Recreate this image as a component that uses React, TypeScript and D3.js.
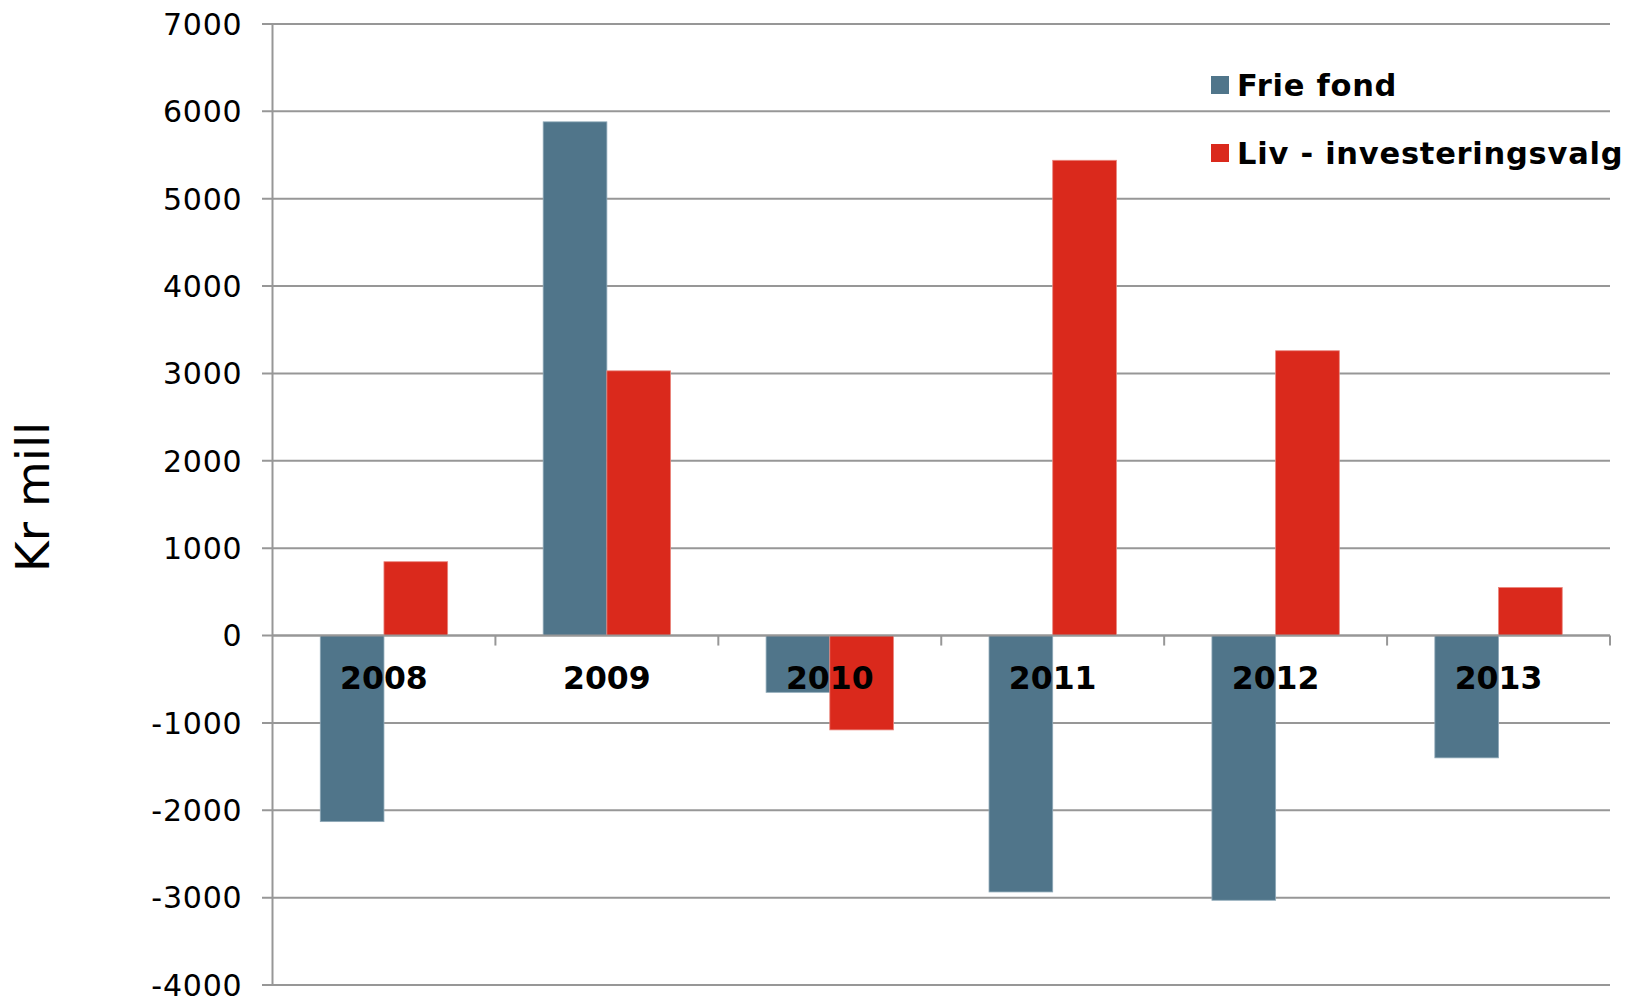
import React from "react";
import * as d3 from "d3";

const categories = ["2008", "2009", "2010", "2011", "2012", "2013"];
const frieFond = [-2130, 5880, -650, -2935, -3030, -1400];
const livInvesteringsvalg = [845, 3030, -1080, 5440, 3260, 550];
const seriesNames = ["Frie fond", "Liv - investeringsvalg"];
const seriesColors = ["#50758A", "#DA291C"];
const yTicks = [7000, 6000, 5000, 4000, 3000, 2000, 1000, 0, -1000, -2000, -3000, -4000];
const yTitle = "Kr mill";

const W = 1627;
const H = 997;
const left = 272.5;
const right = 1610;
const top = 24;
const bottom = 985;

export default function App() {
  const y = d3.scaleLinear().domain([-4000, 7000]).range([bottom, top]);
  const x0 = d3.scaleBand<string>().domain(categories).range([left, right]).padding(0);
  const x1 = d3
    .scaleBand<string>()
    .domain(seriesNames)
    .range([0, x0.bandwidth()])
    .paddingInner(0)
    .paddingOuter(0.75);
  const series = [frieFond, livInvesteringsvalg];
  const y0 = y(0);
  const grid = "#979797";
  const boundaries = categories.map((c) => (x0(c) as number) + x0.bandwidth());

  return (
    <svg
      width={W}
      height={H}
      style={{ position: "absolute", left: 0, top: 0, background: "#fff" }}
      fontFamily="'DejaVu Sans', Verdana, sans-serif"
    >
      {/* gridlines */}
      {yTicks.map((t) => (
        <line key={"g" + t} x1={262} x2={right} y1={y(t)} y2={y(t)} stroke={grid} strokeWidth={2} />
      ))}
      {/* y axis line */}
      <line x1={left} x2={left} y1={top} y2={bottom} stroke={grid} strokeWidth={2} />
      {/* y tick labels */}
      {yTicks.map((t) => (
        <text key={"l" + t} x={242.5} y={y(t)} dy="0.36em" textAnchor="end" fontSize={30} letterSpacing={0.8} fill="#000">
          {t}
        </text>
      ))}
      {/* bars */}
      {categories.map((c, i) =>
        series.map((s, j) => {
          const v = s[i];
          const bx = (x0(c) as number) + (x1(seriesNames[j]) as number);
          const yy = Math.min(y(v), y0);
          const h = Math.abs(y(v) - y0);
          return (
            <rect
              key={c + j}
              x={bx}
              y={yy}
              width={x1.bandwidth()}
              height={h}
              fill={seriesColors[j]}
              stroke={j === 0 ? "#8fa9b8" : "#e9857d"}
              strokeWidth={0.8}
            />
          );
        })
      )}
      {/* zero axis */}
      <line x1={left} x2={right} y1={y0} y2={y0} stroke={grid} strokeWidth={2} />
      {boundaries.map((bx, i) => (
        <line key={"t" + i} x1={bx} x2={bx} y1={y0} y2={y0 + 10} stroke={grid} strokeWidth={2} />
      ))}
      {/* category labels */}
      {categories.map((c) => (
        <text
          key={"c" + c}
          x={(x0(c) as number) + x0.bandwidth() / 2}
          y={689}
          textAnchor="middle"
          fontSize={31.5}
          fontWeight="bold"
          fill="#000"
        >
          {c}
        </text>
      ))}
      {/* y title */}
      <text
        transform={`translate(48.5,497) rotate(-90)`}
        textAnchor="middle"
        fontSize={47}
        fill="#000"
      >
        {yTitle}
      </text>
      {/* legend */}
      {seriesNames.map((n, j) => (
        <g key={"leg" + j}>
          <rect x={1211} y={76 + j * 68} width={18} height={18} fill={seriesColors[j]} />
          <text x={1237} y={95.5 + j * 68} fontSize={30.5} fontWeight="bold" letterSpacing={0.75} fill="#000">
            {n}
          </text>
        </g>
      ))}
    </svg>
  );
}
